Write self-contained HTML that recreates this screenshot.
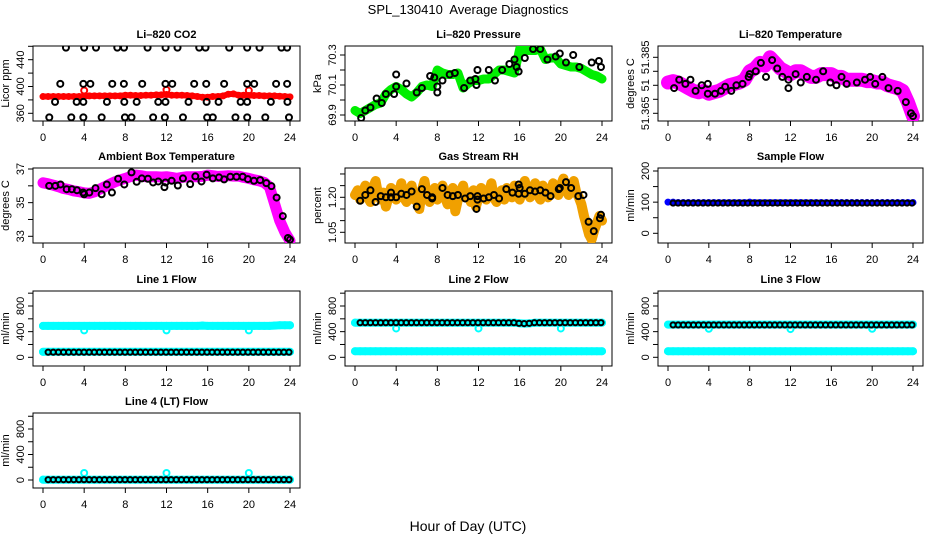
<!DOCTYPE html>
<html><head><meta charset="utf-8"><style>
html,body{margin:0;padding:0;background:#fff;}
svg{display:block;font-family:"Liberation Sans",sans-serif;}
</style></head><body>
<svg id="chart" width="936" height="540" viewBox="0 0 936 540" xmlns="http://www.w3.org/2000/svg">
<text x="468" y="14" text-anchor="middle" font-size="13" style="white-space:pre">SPL_130410  Average Diagnostics</text>
<text x="468" y="531" text-anchor="middle" font-size="14">Hour of Day (UTC)</text>
</svg>
<script>
// ---- x axis ----
const xTicks = [0,4,8,12,16,20,24];
// ---- CO2 ----
const co2Red = [385,385,385,385,385,385,385,385,385.5,386,386,386,386,386,386,386,387,387,386.5,386.5,387,387,387.5,387.5,388,387,387,387,386.5,386,385,384,384,385,385,386,388.5,389,387,387,386.5,386.5,386.5,386,386,386,385.5,385,384.5];
const co2OutHours = [4,12,20];
const co2OutVals = [394,395,394];
const co2BlackHours = [2.23,4.0,5.15,7.22,7.87,10.16,11.91,13.07,15.18,15.79,18.09,19.84,21.04,23.17,23.72,
 1.68,3.92,4.6,6.73,7.86,9.64,11.9,12.56,14.69,15.86,17.6,19.84,20.52,22.65,23.72,
 1.17,3.27,3.92,6.21,7.9,9.1,11.2,11.9,14.14,15.9,17.06,19.2,19.84,22.14,23.75,
 0.61,2.75,3.92,5.7,7.96,8.6,10.7,11.84,13.6,15.95,16.5,18.7,19.84,21.6,23.9];
const co2BlackVals = [458,458,458,458,458,458,458,458,458,458,458,458,458,458,458,
 404,404,404,404,404,404,404,404,404,404,404,404,404,404,404,
 377,377,377,377,377,377,377,377,377,377,377,377,377,377,377,
 354,354,354,354,354,354,354,354,354,354,354,354,354,354,354];
// ---- Pressure ----
const presGreen = [69.93,69.91,69.93,69.95,69.97,69.98,70.04,70.07,70.09,70.07,70.04,70.02,70.05,70.09,70.10,70.09,70.20,70.18,70.17,70.17,70.18,70.08,70.11,70.13,70.13,70.14,70.14,70.17,70.20,70.20,70.19,70.18,70.34,70.33,70.33,70.33,70.34,70.27,70.28,70.28,70.24,70.23,70.22,70.22,70.21,70.19,70.17,70.16,70.14];
const presBlackHours = [0.6,1,1.5,2.1,2.6,3,3.8,4,4,5,6,6.5,7.3,7.7,8,8,8.5,9.2,9.7,10.6,11.2,11.7,11.8,11.9,13,13.6,14.3,15,15.5,15.7,15.9,16.5,17.3,18,18.7,19.5,19.9,20.5,21.2,21.8,23,23.7,23.9];
const presBlackVals = [69.88,69.93,69.95,70.01,69.98,70.04,70.04,70.09,70.17,70.11,70.05,70.08,70.16,70.15,70.05,70.09,70.13,70.17,70.18,70.08,70.13,70.14,70.10,70.2,70.2,70.13,70.2,70.24,70.27,70.22,70.19,70.28,70.34,70.34,70.27,70.29,70.31,70.25,70.30,70.22,70.25,70.26,70.22];
// ---- Li-820 temperature ----
const tempMag = [51.376,51.3765,51.376,51.375,51.374,51.373,51.3725,51.373,51.372,51.3725,51.373,51.374,51.375,51.3755,51.376,51.377,51.380,51.381,51.383,51.382,51.385,51.383,51.381,51.380,51.379,51.380,51.380,51.379,51.378,51.378,51.379,51.379,51.379,51.378,51.378,51.377,51.377,51.377,51.377,51.3765,51.3765,51.376,51.376,51.375,51.3745,51.374,51.373,51.369,51.364];
const tempBlackHours = [0.6,1.1,1.7,2.2,2.7,3.3,3.9,3.9,4.6,5.2,5.6,6.2,6.7,7.3,7.9,8,8.6,9.1,9.6,10.2,10.7,11.2,11.8,11.8,12.5,13,13.6,14.5,15.2,15.9,16.5,17,17.5,18.5,19.3,19.8,20.3,21,21.6,22.5,23.3,23.8,24];
const tempBlackVals = [51.374,51.377,51.3755,51.377,51.373,51.375,51.3755,51.372,51.372,51.373,51.3745,51.373,51.375,51.3755,51.378,51.379,51.380,51.383,51.378,51.384,51.381,51.378,51.377,51.374,51.379,51.376,51.378,51.377,51.380,51.376,51.375,51.378,51.3755,51.376,51.377,51.378,51.3755,51.378,51.374,51.373,51.369,51.365,51.364];
// ---- Ambient box temperature ----
const ambMag = [36.18,36.12,36.04,35.95,35.84,35.78,35.7,35.65,35.58,35.55,35.64,35.8,35.94,36.1,36.24,36.35,36.44,36.55,36.64,36.6,36.54,36.54,36.54,36.52,36.54,36.5,36.44,36.5,36.54,36.54,36.54,36.56,36.64,36.6,36.56,36.58,36.6,36.58,36.58,36.5,36.44,36.36,36.3,36.2,35.94,34.94,33.94,33.24,32.74];
const ambBlackHours = [0.6,1.2,1.7,2.3,2.8,3.3,3.9,4.0,4.5,5.1,5.7,6.2,6.7,7.3,7.9,8.6,9.1,9.6,10.2,10.7,11.2,11.8,11.9,12.5,13.1,13.6,14.3,14.8,15.4,15.9,16.5,17.1,17.6,18.2,18.8,19.4,19.9,20.5,21.1,21.7,22.2,22.7,23.3,23.8,24];
const ambBlackVals = [36.0,36.0,36.08,35.8,35.8,35.74,35.6,35.5,35.6,35.86,35.5,36.08,35.6,36.42,36.08,36.8,36.24,36.44,36.42,36.2,36.26,35.92,36.2,36.3,36.02,36.44,36.1,36.56,36.26,36.66,36.44,36.5,36.38,36.54,36.54,36.54,36.4,36.3,36.34,36.16,35.98,35.3,34.2,32.9,32.8];
// ---- Gas stream RH ----
const rhOrange = [1.21,1.23,1.19,1.22,1.25,1.20,1.18,1.24,1.27,1.21,1.19,1.22,1.16,1.20,1.24,1.23,1.19,1.21,1.26,1.20,1.18,1.22,1.25,1.19,1.21,1.15,1.23,1.27,1.20,1.18,1.22,1.24,1.19,1.21,1.25,1.20,1.17,1.22,1.24,1.14,1.19,1.22,1.25,1.20,1.21,1.18,1.23,1.16,1.20,1.24,1.21,1.19,1.22,1.26,1.20,1.18,1.21,1.23,1.19,1.24,1.22,1.20,1.25,1.21,1.19,1.23,1.27,1.22,1.20,1.24,1.26,1.21,1.19,1.25,1.23,1.20,1.22,1.26,1.24,1.21,1.25,1.28,1.23,1.21,1.24,1.27,1.22,1.20,1.17,1.12,1.08,1.04,1.02,1.06,1.09,1.12,1.10];
const rhBlackHours = [0.5,1,1.5,2,2.5,3,3.5,3.5,4,4.5,5,5.5,6,6.5,7,7.5,7.5,8.5,9,9.5,10,10.7,11.2,11.9,11.9,11.8,12.5,13,13.5,14,14.7,15.3,15.9,15.9,16,16.5,17,17.5,18,18.5,19,19.8,19.9,20.5,21,21.7,22.2,22.7,23.2,23.8,23.9];
const rhBlackVals = [1.185,1.21,1.23,1.18,1.205,1.20,1.22,1.20,1.20,1.215,1.21,1.225,1.16,1.235,1.21,1.20,1.195,1.24,1.21,1.205,1.21,1.195,1.205,1.205,1.19,1.15,1.195,1.20,1.21,1.195,1.235,1.22,1.215,1.255,1.24,1.215,1.23,1.225,1.23,1.22,1.205,1.235,1.24,1.265,1.24,1.205,1.21,1.095,1.055,1.11,1.125];
// ---- Sample flow ----
const sampleBlue = [100,100,99,99,99,99,99,99,99,99,99,99,99,99,99,99,100,99,99,99,99,99,99,99,99,99,99,99,99,99,99,99,99,99,99,99,99,99,99,99,99,99,99,99,99,99,99,99,99];
const sampleBlack = [97,97,97,97,97,97,97,97,97,97,97,97,97,97,97,97,97,97,97,97,97,97,97,97,97,97,97,97,97,97,97,97,97,97,97,97,97,97,97,97,97,97,97,97,97,97,97,97,97];
// ---- Line flows ----
const line1Cyan = [490,490,490,490,490,490,490,490,490,490,490,490,490,490,490,490,490,490,490,490,490,490,490,490,490,490,490,490,490,490,490,495,490,490,490,490,490,490,490,490,490,490,490,490,490,495,500,500,500];
const line1CyanLow = [85,85,85,85,85,85,85,85,85,85,85,85,85,85,85,85,85,85,85,85,85,85,85,85,85,85,85,85,85,85,85,85,85,85,85,85,85,85,85,85,85,85,85,85,85,85,85,85,85];
const line1Black = [80,80,80,80,80,80,80,80,80,80,80,80,80,80,80,80,80,80,80,80,80,80,80,80,80,80,80,80,80,80,80,80,80,80,80,80,80,80,80,80,80,80,80,80,80,80,80,80];
const line1OutHours = [4,12,20];
const line1OutVals = [420,420,420];
const line2CyanHigh = [540,540,540,540,540,540,540,540,540,540,540,540,540,540,540,540,540,540,540,540,540,540,540,540,540,540,540,540,540,540,540,540,530,525,530,540,540,540,540,540,540,540,540,540,540,540,540,540,540];
const line2Black = [540,540,540,540,540,540,540,540,540,540,540,540,540,540,540,540,540,540,540,540,540,540,540,540,540,540,540,540,540,540,540,530,525,530,540,540,540,540,540,540,540,540,540,540,540,540,540,540];
const line2CyanLow = [95,95,95,95,95,95,95,95,95,95,95,95,95,95,95,95,95,95,95,95,95,95,95,95,95,95,95,95,95,95,95,95,95,95,95,95,95,95,95,95,95,95,95,95,95,95,95,95,95];
const line2OutHours = [4,12,20];
const line2OutVals = [450,450,450];
const line3CyanHigh = [510,510,510,510,510,510,510,510,510,510,510,510,510,510,510,510,510,510,510,510,510,510,510,510,510,510,510,510,510,510,510,510,510,510,510,510,510,510,510,510,510,510,510,510,510,510,510,510,510];
const line3Black = [505,505,505,505,505,505,505,505,505,505,505,505,505,505,505,505,505,505,505,505,505,505,505,505,505,505,505,505,505,505,505,505,505,505,505,505,505,505,505,505,505,505,505,505,505,505,505,505];
const line3CyanLow = [95,95,95,95,95,95,95,95,95,95,95,95,95,95,95,95,95,95,95,95,95,95,95,95,95,95,95,95,95,95,95,95,95,95,95,95,95,95,95,95,95,95,95,95,95,95,95,95,95];
const line3OutHours = [4,12,20];
const line3OutVals = [445,440,445];
const line4Cyan = [5,5,5,5,5,5,5,5,5,5,5,5,5,5,5,5,5,5,5,5,5,5,5,5,5,5,5,5,5,5,5,5,5,5,5,5,5,5,5,5,5,5,5,5,5,5,5,5,5];
const line4Black = [5,5,5,5,5,5,5,5,5,5,5,5,5,5,5,5,5,5,5,5,5,5,5,5,5,5,5,5,5,5,5,5,5,5,5,5,5,5,5,5,5,5,5,5,5,5,5,5];
const line4OutHours = [4,12,20];
const line4OutVals = [110,110,110];
// ---- y tick values/labels ----
const co2Ticks = [360,380,400,420,440,460]; const co2Labels = ['360','','400','','440',''];
const presTicks = [69.9,70.0,70.1,70.2,70.3]; const presLabels = ['69.9','','70.1','','70.3'];
const tempTicks = [51.365,51.370,51.375,51.380,51.385]; const tempLabels = ['51.365','','51','','51.385'];
const ambTicks = [33,34,35,36,37]; const ambLabels = ['33','','35','','37'];
const rhTicks = [1.05,1.10,1.15,1.20,1.25,1.30]; const rhLabels = ['1.05','','','1.20','',''];
const sampleTicks = [0,50,100,150,200]; const sampleLabels = ['0','','100','','200'];
const flowTicks = [0,200,400,600,800,1000]; const flowLabels = ['0','','400','','800',''];

const NS = 'http://www.w3.org/2000/svg';
const svg = document.getElementById('chart');
function mk(tag, attrs, parent){
  const e = document.createElementNS(NS, tag);
  for (const k in attrs) e.setAttribute(k, attrs[k]);
  (parent||svg).appendChild(e);
  return e;
}
const colLeft = [33,345,658], colW = [267,267,265];
const rowTop = [46,168,291,413], rowH = 75;

function makePanel(name, col, row, title, ylab, va, pa, vb, pb, ticks, labels){
  const L = colLeft[col], T = rowTop[row], W = colW[col], B = T + rowH;
  const g = mk('g', {});
  
  
  const x0 = L + 10, x24 = L + W - 10;
  const x = h => x0 + (h / 24) * (x24 - x0);
  const y = v => pa + (v - va) * (pb - pa) / (vb - va);
  const clip = mk('clipPath', {id: 'clip-' + name}, g);
  mk('rect', {x: L, y: T, width: W, height: rowH}, clip);
  const frame = mk('rect', {x: L, y: T, width: W, height: rowH, fill: 'none', stroke: '#000', 'stroke-width': 1}, g);
  
  
  const t = mk('text', {x: L + W / 2, y: T - 8, 'text-anchor': 'middle', 'font-size': 11, 'font-weight': 'bold'}, g);
  t.textContent = title;
  
  
  const yl = mk('text', {x: 0, y: 0, 'text-anchor': 'middle', 'font-size': 11, transform: 'translate(' + (L - 24) + ',' + (T + rowH / 2) + ') rotate(-90)'}, g);
  yl.textContent = ylab;
  
  
  const xa = mk('g', {}, g);
  
  
  mk('line', {x1: x(xTicks[0]), x2: x(xTicks[xTicks.length - 1]), y1: B, y2: B, stroke: '#000'}, xa);
  xTicks.forEach(h => {
    mk('line', {x1: x(h), x2: x(h), y1: B, y2: B + 5, stroke: '#000'}, xa);
    const lt = mk('text', {x: x(h), y: B + 20, 'text-anchor': 'middle', 'font-size': 11}, xa);
    lt.textContent = String(h);
  });
  const ya = mk('g', {}, g);
  
  
  const ys = ticks.map(y).filter(p => p >= T - 1 && p <= B + 1);
  mk('line', {x1: L, x2: L, y1: Math.min(...ys), y2: Math.max(...ys), stroke: '#000'}, ya);
  ticks.forEach((v, i) => {
    const py = y(v);
    if (py < T - 1 || py > B + 1) return;
    mk('line', {x1: L - 5, x2: L, y1: py, y2: py, stroke: '#000'}, ya);
    if (labels[i]) {
      const lt = mk('text', {x: 0, y: 0, 'text-anchor': 'middle', 'font-size': 11, transform: 'translate(' + (L - 9) + ',' + py + ') rotate(-90)'}, ya);
      lt.textContent = labels[i];
    }
  });
  const marks = mk('g', {'clip-path': 'url(#clip-' + name + ')'}, g);
  return {x, y, marks, name};
}
function series(p, vals, color, width, r, sname){
  const g = mk('g', {}, p.marks);
  
  
  const n = vals.length;
  const pts = vals.map((v, i) => p.x(i * 24 / (n - 1)).toFixed(1) + ',' + p.y(v).toFixed(1)).join(' ');
  if (width > 0) mk('polyline', {points: pts, fill: 'none', stroke: color, 'stroke-width': width, 'stroke-linejoin': 'round', 'stroke-linecap': 'round'}, g);
  vals.forEach((v, i) => {
    mk('circle', {cx: p.x(i * 24 / (n - 1)), cy: p.y(v), r: r, fill: 'none', stroke: color, 'stroke-width': 2}, g);
  });
}
function points(p, hrs, vals, color, r, sname){
  const g = mk('g', {}, p.marks);
  
  
  hrs.forEach((h, i) => {
    mk('circle', {cx: p.x(h), cy: p.y(vals[i]), r: r, fill: 'none', stroke: color, 'stroke-width': 2}, g);
  });
}
function blackSeries(p, vals, sname){
  const n = vals.length;
  const hrs = vals.map((v, i) => 0.5 + i * 23.4 / (n - 1));
  points(p, hrs, vals, '#000', 2.6, sname);
}

let p;
p = makePanel('co2', 0, 0, 'Li\u2013820 CO2', 'Licor ppm', 360, 113.3, 440, 59.7, co2Ticks, co2Labels);
series(p, co2Red, '#ff0000', 6, 2.5, 'co2-series');
points(p, co2OutHours, co2OutVals, '#ff0000', 3, 'co2-outliers');
points(p, co2BlackHours, co2BlackVals, '#000', 3, 'co2-averages');

p = makePanel('pressure', 1, 0, 'Li\u2013820 Pressure', 'kPa', 69.9, 115, 70.3, 55, presTicks, presLabels);
series(p, presGreen, '#00ee00', 9, 3, 'pressure-series');
points(p, presBlackHours, presBlackVals, '#000', 3, 'pressure-averages');

p = makePanel('li820-temp', 2, 0, 'Li\u2013820 Temperature', 'degrees C', 51.365, 113.3, 51.385, 57.3, tempTicks, tempLabels);
series(p, tempMag, '#ff00ff', 14, 4, 'temperature-series');
points(p, tempBlackHours, tempBlackVals, '#000', 3, 'temperature-averages');

p = makePanel('ambient-temp', 0, 1, 'Ambient Box Temperature', 'degrees C', 33, 236.3, 37, 169, ambTicks, ambLabels);
series(p, ambMag, '#ff00ff', 11, 3.5, 'ambient-series');
points(p, ambBlackHours, ambBlackVals, '#000', 3, 'ambient-averages');

p = makePanel('rh', 1, 1, 'Gas Stream RH', 'percent', 1.05, 232.3, 1.20, 197.3, rhTicks, rhLabels);
series(p, rhOrange, '#f7b500', 0, 3.5, 'rh-series');
series(p, rhOrange, '#f0a000', 10, 2, 'rh-band');
points(p, rhBlackHours, rhBlackVals, '#000', 3, 'rh-averages');

p = makePanel('sample-flow', 2, 1, 'Sample Flow', 'ml/min', 0, 233.3, 200, 171, sampleTicks, sampleLabels);
series(p, sampleBlue, '#0000ff', 5, 2.5, 'sample-series');
blackSeries(p, sampleBlack, 'sample-averages');

p = makePanel('line1', 0, 2, 'Line 1 Flow', 'ml/min', 0, 357.3, 800, 306, flowTicks, flowLabels);
series(p, line1Cyan, '#00ffff', 8, 3, 'line1-high');
series(p, line1CyanLow, '#00ffff', 8, 3, 'line1-low');
points(p, line1OutHours, line1OutVals, '#00ffff', 3, 'line1-outliers');
blackSeries(p, line1Black, 'line1-averages');

p = makePanel('line2', 1, 2, 'Line 2 Flow', 'ml/min', 0, 357.3, 800, 306, flowTicks, flowLabels);
series(p, line2CyanHigh, '#00ffff', 8, 3, 'line2-high');
series(p, line2CyanLow, '#00ffff', 8, 3, 'line2-low');
points(p, line2OutHours, line2OutVals, '#00ffff', 3, 'line2-outliers');
blackSeries(p, line2Black, 'line2-averages');

p = makePanel('line3', 2, 2, 'Line 3 Flow', 'ml/min', 0, 357.3, 800, 306, flowTicks, flowLabels);
series(p, line3CyanHigh, '#00ffff', 8, 3, 'line3-high');
series(p, line3CyanLow, '#00ffff', 8, 3, 'line3-low');
points(p, line3OutHours, line3OutVals, '#00ffff', 3, 'line3-outliers');
blackSeries(p, line3Black, 'line3-averages');

p = makePanel('line4', 0, 3, 'Line 4 (LT) Flow', 'ml/min', 0, 480, 800, 429, flowTicks, flowLabels);
series(p, line4Cyan, '#00ffff', 8, 3, 'line4-series');
points(p, line4OutHours, line4OutVals, '#00ffff', 3, 'line4-outliers');
blackSeries(p, line4Black, 'line4-averages');
</script>
</body></html>
